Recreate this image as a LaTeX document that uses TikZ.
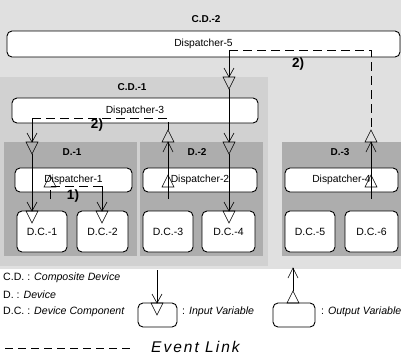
\documentclass[tikz,border=0pt]{standalone}
\usepackage{fontspec}
\setmainfont{Liberation Sans}
\begin{document}
\begin{tikzpicture}[x=1pt,y=-1pt,
  disp/.style={draw, rounded corners=5pt, fill=white, line width=0.9pt,
    inner sep=0pt, font=\fontsize{10.3}{12}\selectfont},
  comp/.style={disp, minimum height=41pt, font=\fontsize{10.5}{12}\selectfont},
  lbl/.style={font=\bfseries\fontsize{10}{12}\selectfont, inner sep=0pt},
  evlbl/.style={font=\bfseries\fontsize{13.5}{14}\selectfont, inner sep=0pt},
  varline/.style={line width=0.6pt},
  evlink/.style={line width=0.8pt, dash pattern=on 9pt off 5pt},
  legtxt/.style={anchor=west, inner sep=0pt, font=\fontsize{10.6}{12}\selectfont},
  % input variable: open V arrow on the edge, open triangle hanging below it
  insym/.pic={\draw[line width=0.6pt] (-5,-9) -- (0,0) -- (5,-9);
               \draw[line width=0.6pt] (-6,0) -- (6,0) -- (0,12) -- cycle;},
  % output variable of a device: triangle above the edge, open arrow below
  outsym/.pic={\draw[line width=0.6pt] (-6,0) -- (6,0) -- (0,-12) -- cycle;
                \draw[line width=0.6pt] (-5,10) -- (0,0) -- (5,10);},
  % output variable of a component: triangle only
  dcout/.pic={\draw[line width=0.6pt] (-6,0) -- (6,0) -- (0,-12) -- cycle;},
]
\useasboundingbox (0,0) rectangle (401,360);
\fill[white] (0,0) rectangle (401,360);

% shaded device areas
\fill[black!12] (0,0) rectangle (401,269);
\fill[black!18] (0,77) rectangle (268,266);
\fill[black!32] (4,142) rectangle (137,256);
\fill[black!32] (140,142) rectangle (263,256);
\fill[black!32] (282,142) rectangle (401,256);

% area labels
\node[lbl] (cd2) at (206,19) {C.D.-2};
\node[lbl] (cd1) at (132,87) {C.D.-1};
\node[lbl] (dv1) at (72,152) {D.-1};
\node[lbl] (dv2) at (197,152) {D.-2};
\node[lbl] (dv3) at (340,152) {D.-3};

% dispatchers
\node[disp, minimum width=393pt, minimum height=26pt] (d5) at (203.5,44) {Dispatcher-5};
\node[disp, minimum width=246pt, minimum height=25pt] (d3) at (135,110.5) {Dispatcher-3};
\node[disp, minimum width=117pt, minimum height=24pt] (d1) at (73.5,180) {Dispatcher-1};
\node[disp, minimum width=114pt, minimum height=24pt] (d2) at (200,180) {Dispatcher-2};
\node[disp, minimum width=113pt, minimum height=24pt] (d4) at (341.5,180) {Dispatcher-4};

% device components
\node[comp, minimum width=50pt] (c1) at (42,231.5) {D.C.-1};
\node[comp, minimum width=51pt] (c2) at (102.5,231.5) {D.C.-2};
\node[comp, minimum width=50pt] (c3) at (168,231.5) {D.C.-3};
\node[comp, minimum width=53pt] (c4) at (228.5,231.5) {D.C.-4};
\node[comp, minimum width=50pt] (c5) at (310,231.5) {D.C.-5};
\node[comp, minimum width=53pt] (c6) at (371.5,231.5) {D.C.-6};

% variable ports
\coordinate (inCD1) at (229,77);
\coordinate (inCD1b) at (229,89);
\coordinate (inD2) at (229,142);
\coordinate (inD2b) at (229,154);
\coordinate (inC4) at (229,211);
\coordinate (inD1) at (32,142);
\coordinate (inD1b) at (32,154);
\coordinate (inC1) at (32,211);
\coordinate (inC2) at (102,211);
\coordinate (outD2) at (168,142);
\coordinate (outD2t) at (168,130);
\coordinate (outD3) at (371,142);
\coordinate (outD3t) at (371,130);
\coordinate (outC1) at (50,199);
\coordinate (outC3) at (168,199);
\coordinate (outC6) at (371,199);
\coordinate (e5) at (229,50);
\coordinate (e5r) at (371,50);
\coordinate (e3) at (32,118);
\coordinate (e3r) at (168,118);
\coordinate (e1) at (50,186);
\coordinate (e1r) at (102,186);

\pic at (inCD1) {insym};
\pic at (inD2) {insym};
\pic at (inC4) {insym};
\pic at (inD1) {insym};
\pic at (inC1) {insym};
\pic at (inC2) {insym};
\pic at (outD2) {outsym};
\pic at (outD3) {outsym};
\pic at ([yshift=12pt]outC1) {dcout};
\pic at ([yshift=12pt]outC3) {dcout};
\pic at ([yshift=12pt]outC6) {dcout};

% variable lines
\draw[varline] (e5) -- (inCD1);
\draw[varline] (inCD1b) -- (inD2);
\draw[varline] (inD2b) -- (inC4);
\draw[varline] (e3) -- (inD1);
\draw[varline] (inD1b) -- (inC1);
\draw[varline] (outD2) -- (outC3);
\draw[varline] (outD3) -- (outC6);
\draw[varline] (e1r) -- (inC2);

% event links
\draw[evlink] (e5) -- (e5r) -- (outD3t);
\draw[evlink] (e3) -- (e3r) -- (outD2t);
\draw[evlink] (outC1) -- (e1) -- (e1r);
\node[evlbl] (ev5) at (298,64) {2)};
\node[evlbl] (ev3) at (97,125) {2)};
\node[evlbl] (ev1) at (73,196) {1)};

% legend
\node[legtxt] (k1) at (3,278) {C.D. : \textit{Composite Device}};
\node[legtxt] (k2) at (3,295) {D. : \textit{Device}};
\node[legtxt] (k3) at (3,312) {D.C. : \textit{Device Component}};

\node[draw, rounded corners=5pt, line width=0.9pt, minimum width=39pt,
  minimum height=24pt, inner sep=0pt] (kin) at (157.5,315) {};
\coordinate (kinTop) at (157,270);
\coordinate (kinEdge) at (157,303);
\draw[varline] (kinTop) -- (kinEdge);
\pic at (kinEdge) {insym};
\node[legtxt] (kinT) at (182,312) {: \textit{Input Variable}};

\node[draw, rounded corners=5pt, line width=0.9pt, minimum width=42pt,
  minimum height=24pt, inner sep=0pt] (kout) at (294,315) {};
\coordinate (koutEdge) at (293,303);
\coordinate (koutApex) at (293,291);
\coordinate (koutTop) at (293,268);
\pic at (koutEdge) {dcout};
\draw[varline] (koutApex) -- (koutTop);
\draw[line width=0.6pt] (288,278) -- (koutTop) -- (298,278);
\node[legtxt] (koutT) at (321,312) {: \textit{Output Variable}};

\coordinate (kev1) at (5,348);
\coordinate (kev2) at (130,348);
\draw[line width=0.8pt, dash pattern=on 8pt off 5pt] (kev1) -- (kev2);
\node[legtxt, font=\itshape\fontsize{15.5}{17}\selectfont\addfontfeature{LetterSpace=13}] (kevT) at (151,347) {Event Link};
\end{tikzpicture}
\end{document}
